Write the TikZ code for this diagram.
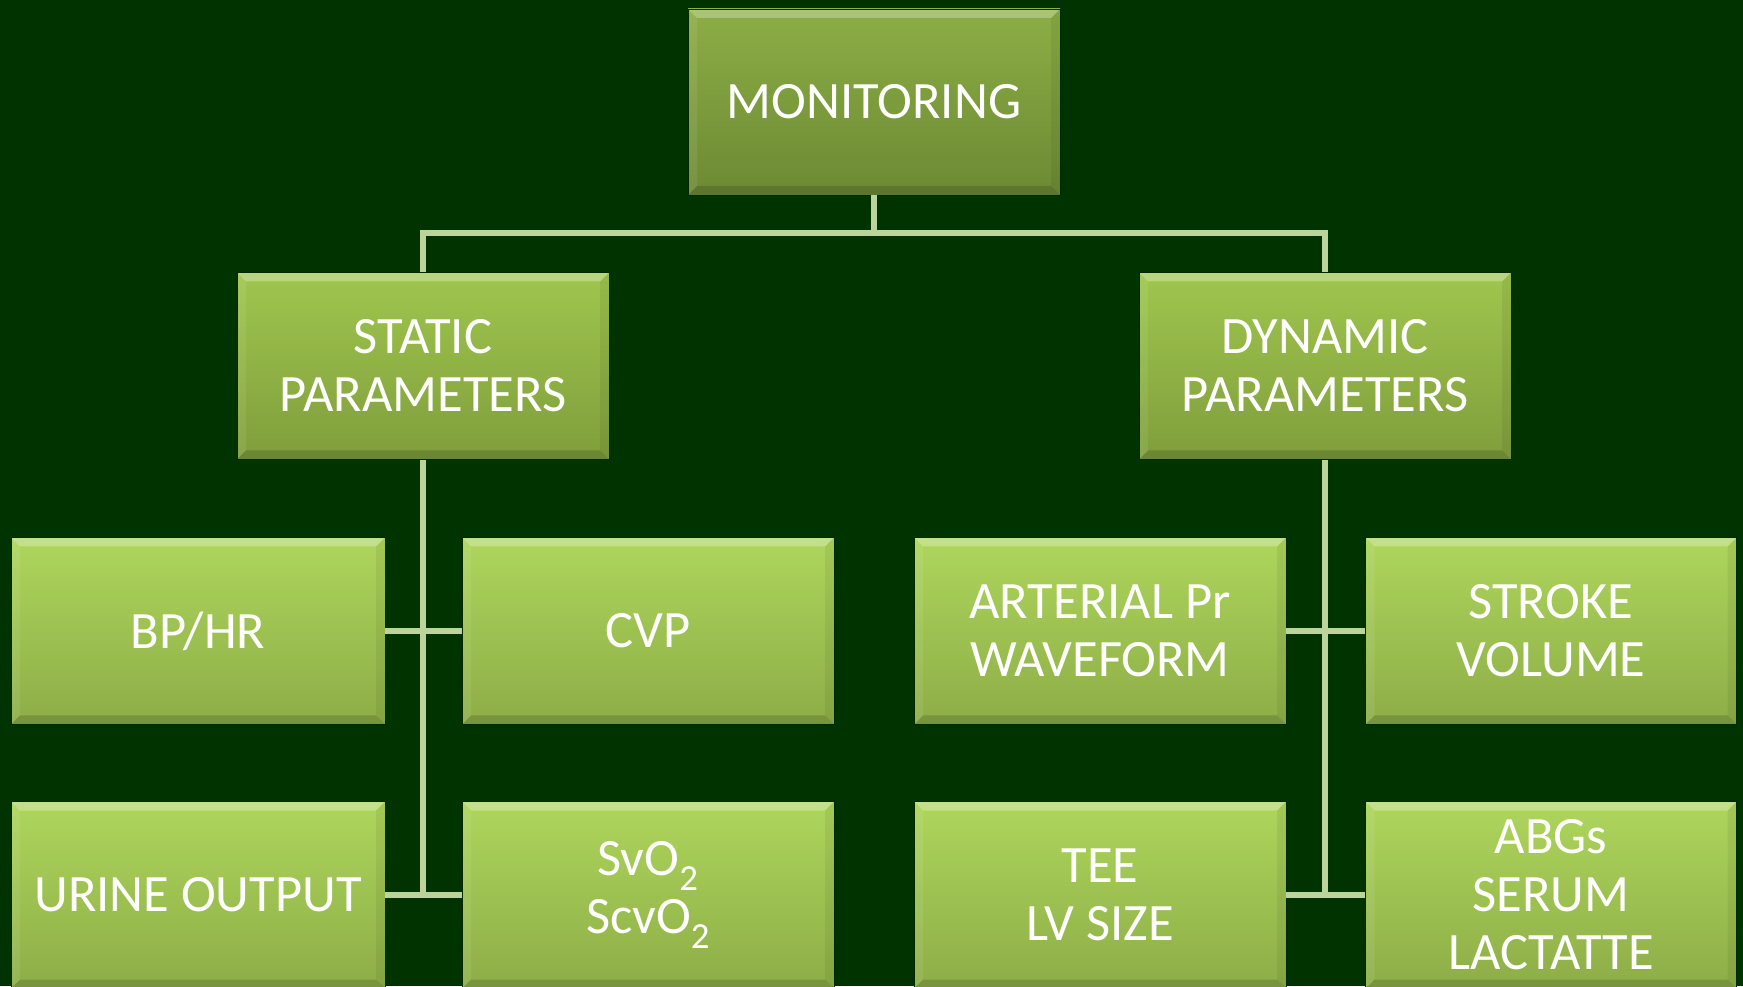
\documentclass[tikz,border=0pt]{standalone}
\usepackage{fontspec}
\setmainfont{Carlito}
\usetikzlibrary{calc}
\definecolor{bg}{HTML}{003300}
\definecolor{lnk}{HTML}{BCD39A}
\definecolor{topA}{HTML}{8CAE45}\definecolor{topB}{HTML}{6C8A34}
\definecolor{midA}{HTML}{A0C64E}\definecolor{midB}{HTML}{7F9E3C}
\definecolor{lowA}{HTML}{AED65C}\definecolor{lowB}{HTML}{8DAD47}
\tikzset{
  bevel/.style={path picture={
    \coordinate (nw) at (path picture bounding box.north west);
    \coordinate (ne) at (path picture bounding box.north east);
    \coordinate (sw) at (path picture bounding box.south west);
    \coordinate (se) at (path picture bounding box.south east);
    \fill[white,opacity=0.28] (nw) -- (ne) -- ($(ne)+(-9,-9)$) -- ($(nw)+(9,-9)$) -- cycle;
    \fill[white,opacity=0.08] (nw) -- ($(nw)+(9,-9)$) -- ($(sw)+(9,9)$) -- (sw) -- cycle;
    \fill[black,opacity=0.06] (ne) -- ($(ne)+(-9,-9)$) -- ($(se)+(-9,9)$) -- (se) -- cycle;
    \fill[black,opacity=0.15] (sw) -- (se) -- ($(se)+(-9,9)$) -- ($(sw)+(9,9)$) -- cycle;
  }},
  box/.style={minimum width=372pt, minimum height=187pt, inner sep=0pt,
    text=white, align=center, font=\fontsize{52.5}{58}\selectfont,
    draw=black!60!green!40!black, line width=0.8pt, bevel},
  boxtop/.style={box, top color=topA, bottom color=topB},
  boxmid/.style={box, top color=midA, bottom color=midB},
  boxlow/.style={box, top color=lowA, bottom color=lowB},
  link/.style={draw=lnk, line width=5.5pt},
}
\begin{document}
\begin{tikzpicture}[x=1pt,y=1pt]
\useasboundingbox (0,0) rectangle (1743,986);
\fill[bg] (0,0) rectangle (1743,986);
\coordinate (bus) at (874,753);
\node[boxtop, minimum width=372pt, minimum height=186pt] (mon) at (874,884) {MONITORING};
\node[boxmid] (stat) at (423,620) {STATIC\\PARAMETERS};
\node[boxmid] (dyn) at (1325,620) {DYNAMIC\\PARAMETERS};
\node[boxlow, minimum width=374pt] (bphr) at (198,355) {BP/HR};
\node[boxlow] (cvp) at (648,355) {CVP};
\node[boxlow] (art) at (1100,355) {ARTERIAL Pr\\WAVEFORM};
\node[boxlow, minimum width=371pt] (stroke) at (1551,355) {STROKE\\VOLUME};
\node[boxlow, minimum width=374pt] (urine) at (198,91) {URINE OUTPUT};
\node[boxlow] (svo) at (648,91) {SvO\textsubscript{2}\\ScvO\textsubscript{2}};
\node[boxlow] (tee) at (1100,91) {TEE\\LV SIZE};
\node[boxlow, minimum width=371pt] (abg) at (1551,91) {ABGs\\SERUM\\LACTATTE};
\path[link] (mon.south) -- (bus);
\path[link] (stat.north) |- (bus) -| (dyn.north);
\path[link] (stat.south) -- (stat.south |- urine.east);
\path[link] (dyn.south) -- (dyn.south |- abg.west);
\path[link] (bphr.east) -- (cvp.west);
\path[link] (urine.east) -- (svo.west);
\path[link] (art.east) -- (stroke.west);
\path[link] (tee.east) -- (abg.west);
\end{tikzpicture}
\end{document}
